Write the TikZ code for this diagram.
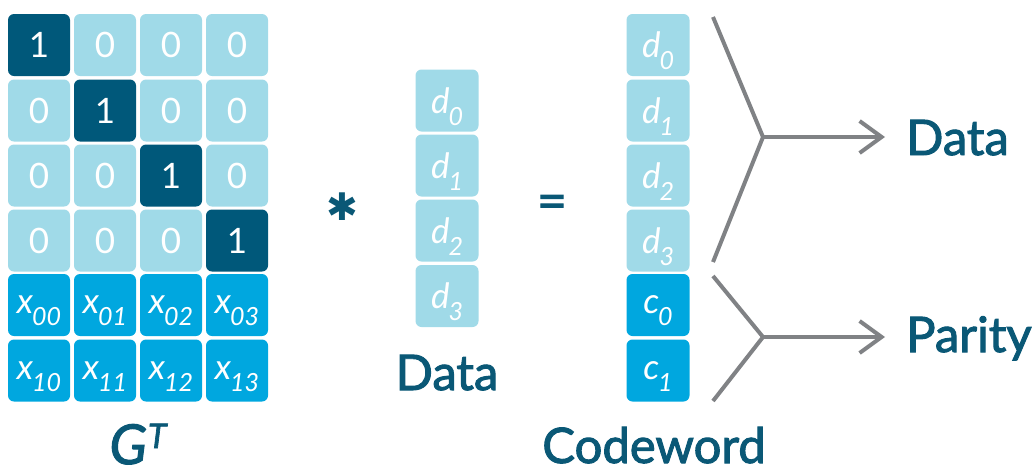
\documentclass[tikz,border=0pt]{standalone}
\usepackage{fontspec}
\setmainfont{Lato}
\newfontfamily\capfont{Lato}[FakeBold=2]
\newfontfamily\symfont{DejaVu Sans}
\usetikzlibrary{
    arrows.meta,% open arrow heads
    positioning% wg. " of "
}

\definecolor{cellLight}{HTML}{A0DAE8}
\definecolor{cellDark}{HTML}{00587A}
\definecolor{cellBlue}{HTML}{00A7DF}
\definecolor{inkTeal}{HTML}{0A5876}
\definecolor{lineGray}{HTML}{808285}

\tikzset{
    cell/.style={minimum width=62pt, minimum height=62pt, inner sep=0pt,
        rounded corners=6pt, text=white,
        font=\fontsize{35}{35}\selectfont},
    cellL/.style={cell, fill=cellLight},
    cellD/.style={cell, fill=cellDark},
    cellB/.style={cell, fill=cellBlue},
    vec/.style={cell, minimum width=63pt},
    caption/.style={text=inkTeal, inner sep=0pt,
        font=\capfont\fontsize{49}{49}\selectfont},
    brace/.style={draw=lineGray, line width=4pt},
    outarrow/.style={brace, -{Straight Barb[length=22pt,width=32pt,line width=4pt]}}
}

\newcommand{\sx}[2]{\itshape #1\kern-1pt\raisebox{-12pt}[0pt][0pt]{\fontsize{25}{25}\selectfont #2}}

\begin{document}
\begin{tikzpicture}[x=1pt,y=-1pt]
    \useasboundingbox (0,0) rectangle (1032,472);

    %%% G^T, rows 1 to 4
    \node[cellD] (g00) at (39,45) {1};
    \node[cellL] (g01) at (105,45) {0};
    \node[cellL] (g02) at (171,45) {0};
    \node[cellL] (g03) at (237,45) {0};

    \node[cellL] (g10) at (39,110.5) {0};
    \node[cellD] (g11) at (105,110.5) {1};
    \node[cellL] (g12) at (171,110.5) {0};
    \node[cellL] (g13) at (237,110.5) {0};

    \node[cellL] (g20) at (39,175.5) {0};
    \node[cellL] (g21) at (105,175.5) {0};
    \node[cellD] (g22) at (171,175.5) {1};
    \node[cellL] (g23) at (237,175.5) {0};

    \node[cellL] (g30) at (39,240.5) {0};
    \node[cellL] (g31) at (105,240.5) {0};
    \node[cellL] (g32) at (171,240.5) {0};
    \node[cellD] (g33) at (237,240.5) {1};

    %%% G^T, parity rows
    \node[cellB] (g40) at (39,305) {\sx{x}{00}};
    \node[cellB] (g41) at (105,305) {\sx{x}{01}};
    \node[cellB] (g42) at (171,305) {\sx{x}{02}};
    \node[cellB] (g43) at (237,305) {\sx{x}{03}};

    \node[cellB] (g50) at (39,370.5) {\sx{x}{10}};
    \node[cellB] (g51) at (105,370.5) {\sx{x}{11}};
    \node[cellB] (g52) at (171,370.5) {\sx{x}{12}};
    \node[cellB] (g53) at (237,370.5) {\sx{x}{13}};

    \node[caption, anchor=base, font=\capfont\fontsize{55}{55}\selectfont] (gt) at (138,464) {\itshape G\kern1pt\raisebox{16pt}{\fontsize{34}{34}\selectfont T}};

    \node[caption, anchor=center, font=\symfont\bfseries\fontsize{38}{38}\selectfont] (times) at (342,207) {✱};

    %%% data vector
    \node[vec, fill=cellLight] (d0) at (447,100.5) {\sx{d}{0}};
    \node[vec, fill=cellLight] (d1) at (447,165.5) {\sx{d}{1}};
    \node[vec, fill=cellLight] (d2) at (447,230.5) {\sx{d}{2}};
    \node[vec, fill=cellLight] (d3) at (447,296) {\sx{d}{3}};

    \node[caption, anchor=base] (data) at (447,390) {Data};

    \node[caption, anchor=center, font=\capfont\fontsize{52}{52}\selectfont] (equals) at (552,207) {=};

    %%% codeword
    \node[vec, fill=cellLight] (w0) at (658,45) {\sx{d}{0}};
    \node[vec, fill=cellLight] (w1) at (658,110.5) {\sx{d}{1}};
    \node[vec, fill=cellLight] (w2) at (658,175.5) {\sx{d}{2}};
    \node[vec, fill=cellLight] (w3) at (658,240.5) {\sx{d}{3}};
    \node[vec, fill=cellBlue] (w4) at (658,305) {\sx{c}{0}};
    \node[vec, fill=cellBlue] (w5) at (658,370.5) {\sx{c}{1}};

    \node[caption, anchor=base] (codeword) at (654,463) {Codeword};

    %%% split into data and parity
    \coordinate (dtop) at (713,17);
    \coordinate (dmid) at (763,137);
    \coordinate (dbot) at (713,262);
    \coordinate (dend) at (885,137);
    \coordinate (ptop) at (713,276);
    \coordinate (pmid) at (763,337);
    \coordinate (pbot) at (713,401);
    \coordinate (pend) at (885,337);

    \node[caption, anchor=base west] (outdata) at (906,155) {Data};
    \node[caption, anchor=base west] (outparity) at (906,352) {Parity};

    \draw[brace] (dtop) -- (dmid) -- (dbot);
    \draw[outarrow] (dmid) -- (dend);
    \draw[brace] (ptop) -- (pmid) -- (pbot);
    \draw[outarrow] (pmid) -- (pend);
\end{tikzpicture}
\end{document}
